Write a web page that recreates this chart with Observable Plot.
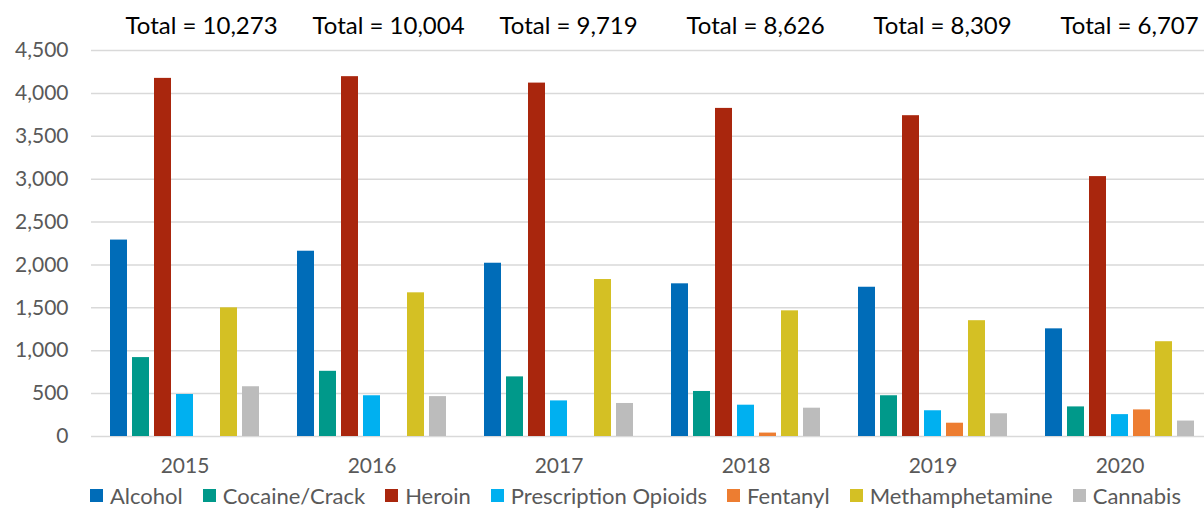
<!DOCTYPE html>
<html><head><meta charset="utf-8">
<script src="https://cdn.jsdelivr.net/npm/d3@7"></script>
<script src="https://cdn.jsdelivr.net/npm/@observablehq/plot@0.6"></script>
<style>
html,body{margin:0;padding:0;background:#fff;overflow:hidden;}
#chart{width:1204px;height:508px;overflow:hidden;}
.legend{display:flex;align-items:center;height:26px;padding-left:90px;font-family:Lato, sans-serif;font-size:22px;color:#595959;white-space:nowrap;}
.legend .item{display:flex;align-items:center;margin-right:20px;}
.legend .sw{width:13px;height:13px;margin-right:7px;flex:none;}
</style></head><body><div id="chart"></div>
<script>
const years = ["2015","2016","2017","2018","2019","2020"];
const totals = [10273, 10004, 9719, 8626, 8309, 6707];
const categories = ["Alcohol","Cocaine/Crack","Heroin","Prescription Opioids","Fentanyl","Methamphetamine","Cannabis"];
const alcohol   = [2290, 2160, 2020, 1780, 1740, 1255];
const cocaine   = [920, 760, 695, 525, 475, 345];
const heroin    = [4175, 4195, 4120, 3825, 3740, 3030];
const rxOpioids = [490, 475, 415, 365, 300, 255];
const fentanyl  = [0, 0, 0, 40, 155, 310];
const meth      = [1500, 1675, 1830, 1465, 1350, 1105];
const cannabis  = [580, 465, 385, 330, 265, 180];
const yTicks = [0, 500, 1000, 1500, 2000, 2500, 3000, 3500, 4000, 4500];
const colors = ["#006cb8", "#00998a", "#a9260d", "#00b0f0", "#ed7d31", "#d4c024", "#bcbcbc"];

const series = [alcohol, cocaine, heroin, rxOpioids, fentanyl, meth, cannabis];
const rows = [];
years.forEach((yr, i) => categories.forEach((c, j) => rows.push({year: yr, category: c, value: series[j][i]})));
const fmt = d3.format(",");

const chart = Plot.plot({
  width: 1204, height: 482,
  marginTop: 50, marginBottom: 46, marginLeft: 90, marginRight: -10,
  style: {fontFamily: "Lato, sans-serif", fontSize: "21px", color: "#595959", background: "transparent"},
  fx: {domain: years, padding: 0, label: null, tickSize: 0, tickPadding: 22, axis: "bottom"},
  x: {domain: categories, axis: null, paddingInner: 0.24, paddingOuter: 0.69},
  y: {domain: [0, 4500], ticks: yTicks, tickFormat: fmt, tickSize: 0, tickPadding: 23, label: null},
  color: {domain: categories, range: colors},
  marks: [
    Plot.ruleY(yTicks, {stroke: "#d9d9d9", strokeWidth: 1.5}),
    Plot.barY(rows, {fx: "year", x: "category", y: "value", fill: "category"}),
    Plot.text(years, {fx: d => d, text: (d, i) => "Total = " + fmt(totals[i]), frameAnchor: "top-left",
      textAnchor: "start", lineAnchor: "bottom", dx: 34, dy: -17, fill: "#000", fontSize: 24})
  ]
});
const root = document.getElementById("chart");
root.appendChild(chart);
const legend = document.createElement("div");
legend.className = "legend";
categories.forEach((c, j) => {
  const it = document.createElement("div"); it.className = "item";
  const sw = document.createElement("span"); sw.className = "sw"; sw.style.background = colors[j];
  const tx = document.createElement("span"); tx.textContent = c;
  it.appendChild(sw); it.appendChild(tx); legend.appendChild(it);
});
root.appendChild(legend);
</script></body></html>
